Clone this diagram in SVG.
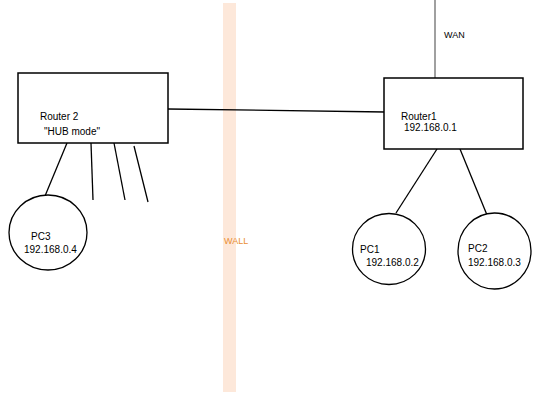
<svg xmlns="http://www.w3.org/2000/svg" width="540" height="405" viewBox="0 0 540 405">
<style>
.box{fill:#fff;stroke:#000;stroke-width:1.5}
.pc{fill:#fff;stroke:#000;stroke-width:1.3}
.ln{stroke:#000;stroke-width:1.3;fill:none}
.t{font-family:"Liberation Sans",Arial,sans-serif;font-size:10px;fill:#000}
</style>
<rect x="0" y="0" width="540" height="405" fill="#fff"/>
<g id="wall">
<rect x="223" y="3" width="13" height="389" fill="#fde8da"/>
<text x="224" y="244" class="t" style="font-size:9px;fill:#ea8f35">WALL</text>
</g>
<g id="connectors">
<line x1="168" y1="109" x2="385" y2="112" class="ln"/>
<line x1="435" y1="0" x2="435" y2="78" stroke="#808080" stroke-width="1.5"/>
<line x1="437" y1="149" x2="396" y2="213" class="ln"/>
<line x1="460" y1="149" x2="487" y2="215" class="ln"/>
<line x1="67" y1="143" x2="45" y2="196" class="ln"/>
<line x1="91" y1="143" x2="93" y2="200" class="ln"/>
<line x1="114" y1="143" x2="125" y2="200" class="ln"/>
<line x1="134" y1="146" x2="148" y2="202" class="ln"/>
</g>
<g id="wan-label">
<text x="444" y="38" class="t" style="font-size:9px">WAN</text>
</g>
<g id="router2">
<rect x="18" y="73" width="150" height="70" class="box"/>
<text x="40" y="120" class="t">Router 2</text>
<text x="44" y="135" class="t">"HUB mode"</text>
</g>
<g id="router1">
<rect x="384" y="78" width="139" height="71" class="box"/>
<text x="401" y="120" class="t">Router1</text>
<text x="404" y="131" class="t">192.168.0.1</text>
</g>
<g id="pc1">
<ellipse cx="389" cy="249" rx="36.5" ry="35.5" class="pc"/>
<text x="360" y="253" class="t">PC1</text>
<text x="366" y="266" class="t">192.168.0.2</text>
</g>
<g id="pc2">
<ellipse cx="494.5" cy="251" rx="36.5" ry="38" class="pc"/>
<text x="468" y="252" class="t">PC2</text>
<text x="468" y="266" class="t">192.168.0.3</text>
</g>
<g id="pc3">
<ellipse cx="48" cy="232.5" rx="39" ry="37.5" class="pc"/>
<text x="31" y="240" class="t">PC3</text>
<text x="24" y="253" class="t">192.168.0.4</text>
</g>
</svg>
